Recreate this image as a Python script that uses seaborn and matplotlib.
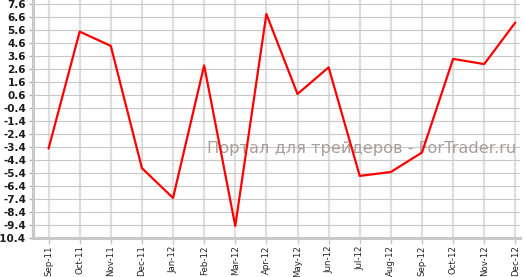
import matplotlib
matplotlib.use("Agg")
import matplotlib.pyplot as plt
import seaborn as sns
import pandas as pd
import numpy as np

months = ["Sep-11", "Oct-11", "Nov-11", "Dec-11", "Jan-12", "Feb-12", "Mar-12", "Apr-12",
          "May-12", "Jun-12", "Jul-12", "Aug-12", "Sep-12", "Oct-12", "Nov-12", "Dec-12"]
values = [-3.5, 5.5, 4.4, -5.0, -7.3, 2.9, -9.45, 6.85,
          0.7, 2.75, -5.6, -5.3, -3.8, 3.4, 3.0, 6.2]
y_ticks = [7.6, 6.6, 5.6, 4.6, 3.6, 2.6, 1.6, 0.6, -0.4, -1.4, -2.4, -3.4, -4.4,
           -5.4, -6.4, -7.4, -8.4, -9.4, -10.4]
watermark = "Портал для трейдеров - ForTrader.ru"

sns.set_theme(style="white")
plt.rcParams["axes.unicode_minus"] = False
plt.rcParams["font.family"] = ["DejaVu Sans"]

df = pd.DataFrame({"month": months, "value": values})

fig = plt.figure(figsize=(5.24, 2.77), dpi=100)
ax = fig.add_axes([33 / 524, (277 - 238.3) / 277, (520 - 33) / 524, 238.3 / 277])

sns.lineplot(data=df, x="month", y="value", sort=False, color="#ff0000",
             linewidth=1.6, ax=ax, zorder=5)

ax.set_xlim(-0.5, 15.15)
ax.set_ylim(-10.4, 7.6 + 4.3 / 13)
ax.set_yticks(y_ticks)
ax.set_yticklabels([f"{v:.1f}" for v in y_ticks])
ax.set_xticks(range(len(months)))
ax.set_xticklabels(months, rotation=90)

ax.yaxis.grid(True, color="#c8c8c8", linewidth=0.8)
ax.xaxis.grid(True, color="#dedede", linewidth=1.6)
ax.set_axisbelow(True)

for s in ["top", "right"]:
    ax.spines[s].set_visible(False)
for s in ["left", "bottom"]:
    ax.spines[s].set_color("#c8c8c8")
    ax.spines[s].set_linewidth(2.2)

ax.tick_params(axis="y", which="both", left=True, length=3, width=1, color="#b0b0b0",
               pad=2, labelsize=7.5, labelcolor="#1a1a1a")
ax.tick_params(axis="x", which="both", bottom=True, length=4, width=1, color="#c8c8c8",
               pad=1, labelsize=6.2, labelcolor="#222222")
for lab in ax.get_yticklabels():
    lab.set_fontweight("bold")

ax.set_xlabel("")
ax.set_ylabel("")

ax.text(0.992, 0.375, watermark, transform=ax.transAxes, ha="right", va="center",
        fontsize=11.7, color="#a89e9e", zorder=3)

fig.savefig("out.png", dpi=100)
